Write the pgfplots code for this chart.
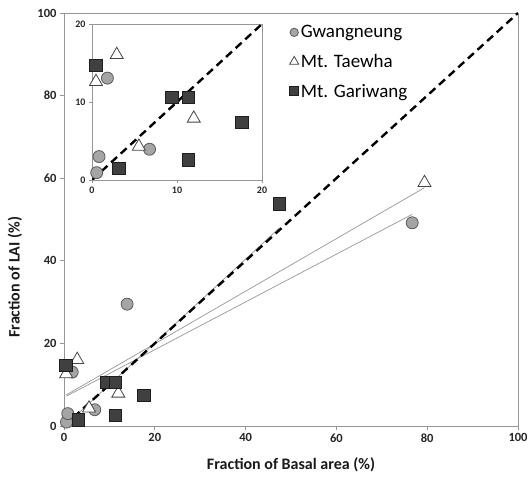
\documentclass[border=0pt]{standalone}
\usepackage{pgfplots}
\usepackage{pgfplotstable}
\pgfplotsset{compat=1.18}
\usepackage{fontspec}
\setmainfont{Carlito}
\definecolor{cgw}{RGB}{165,165,165}
\definecolor{cgwd}{RGB}{90,90,90}
\definecolor{cga}{RGB}{64,64,64}
\definecolor{cgad}{RGB}{30,30,30}
\definecolor{ctw}{RGB}{70,70,70}
\definecolor{axc}{RGB}{150,150,150}

\pgfplotstableread{
x y
0.55 0.94
0.83 3.0
1.81 13.06
6.77 3.94
13.9 29.5
76.7 49.2
}\gw
\pgfplotstableread{
x y
0.47 12.6
2.91 16.06
5.51 4.3
11.97 7.9
79.4 58.9
}\tw
\pgfplotstableread{
x y
0.43 14.7
3.19 1.5
9.41 10.6
11.34 10.6
11.34 2.57
17.64 7.4
47.4 53.8
}\ga

\begin{document}
\begin{tikzpicture}
\useasboundingbox (0,0) rectangle (529pt,478pt);
\begin{axis}[
  at={(64pt,52pt)}, anchor=south west,
  scale only axis, width=454pt, height=413pt,
  xmin=0, xmax=100, ymin=0, ymax=100,
  xtick={0,20,...,100}, ytick={0,20,...,100},
  xtick pos=left, ytick pos=left,
  tick align=outside, major tick length=4pt,
  axis line style={axc, line width=0.9pt},
  tick style={axc, line width=0.8pt},
  /pgf/number format/assume math mode=true,
  ticklabel style={font=\bfseries\fontsize{12.5}{14}\selectfont, text=black!85},
  xlabel={Fraction of Basal area (\%)},
  ylabel={Fraction of LAI (\%)},
  label style={font=\bfseries\fontsize{16}{18}\selectfont, text=black!90},
  xlabel style={at={(axis description cs:0.5,-0.094)}, anchor=center},
  ylabel style={at={(axis description cs:-0.108,0.36)}, anchor=center, rotate=0},
  legend style={at={(axis description cs:0.49,0.98)}, anchor=north west, draw=none, fill=none,
    font=\fontsize{19}{22}\selectfont, row sep=11pt},
  legend cell align=left,
  legend image post style={scale=0.7},
]
\addplot[only marks, mark=*, mark size=6pt, mark options={fill=cgw, draw=cgwd, line width=0.8pt}] table[x=x,y=y] {\gw};
\addlegendentry{Gwangneung}
\addplot[only marks, mark=triangle*, mark size=7.5pt, mark options={fill=white, draw=ctw, line width=0.8pt}] table[x=x,y=y] {\tw};
\addlegendentry{Mt. Taewha}
\addplot[only marks, mark=square*, mark size=6.3pt, mark options={fill=cga, draw=cgad, line width=0.8pt}] table[x=x,y=y] {\ga};
\addlegendentry{Mt. Gariwang}
\addplot[forget plot, axc, line width=0.7pt, no marks] table[x=x, y={create col/linear regression={y=y}}] {\gw};
\addplot[forget plot, axc, line width=0.7pt, no marks] table[x=x, y={create col/linear regression={y=y}}] {\tw};
\addplot[forget plot, axc, line width=0.7pt, no marks] table[x=x, y={create col/linear regression={y=y}}] {\ga};
\addplot[forget plot, black, line width=2.4pt, dash pattern=on 8pt off 5pt, no marks] coordinates {(0,0) (100,100)};
\end{axis}

\begin{axis}[
  at={(92pt,298pt)}, anchor=south west,
  scale only axis, width=170pt, height=156pt,
  xmin=0, xmax=20, ymin=0, ymax=20,
  xtick={0,10,20}, ytick={0,10,20},
  xtick pos=left, ytick pos=left,
  tick align=outside, major tick length=3pt,
  axis background/.style={fill=white},
  axis line style={axc, line width=0.9pt},
  tick style={axc, line width=0.8pt},
  /pgf/number format/assume math mode=true,
  ticklabel style={font=\bfseries\fontsize{10}{12}\selectfont, text=black!85},
]
\addplot[only marks, mark=*, mark size=6pt, mark options={fill=cgw, draw=cgwd, line width=0.8pt}] coordinates {(0.55,0.94) (0.83,3.0) (1.81,13.06) (6.77,3.94)};
\addplot[only marks, mark=triangle*, mark size=7.5pt, mark options={fill=white, draw=ctw, line width=0.8pt}] coordinates {(0.47,12.6) (2.91,16.06) (5.51,4.3) (11.97,7.9)};
\addplot[only marks, mark=square*, mark size=6.3pt, mark options={fill=cga, draw=cgad, line width=0.8pt}] coordinates {(0.43,14.7) (3.19,1.5) (9.41,10.6) (11.34,10.6) (11.34,2.57) (17.64,7.4)};
\addplot[black, line width=2.4pt, dash pattern=on 8pt off 5pt, no marks] coordinates {(0,0) (20,20)};
\end{axis}
\end{tikzpicture}
\end{document}
